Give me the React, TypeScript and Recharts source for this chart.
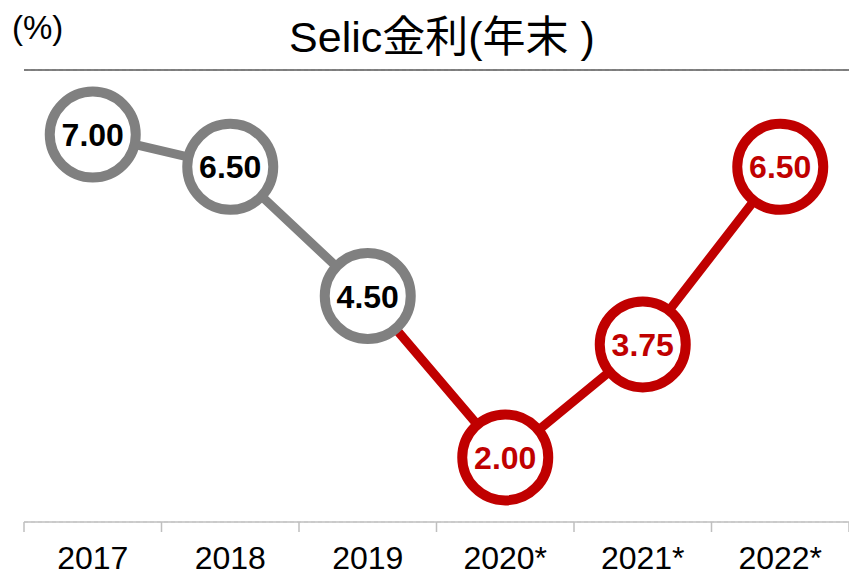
import { CartesianGrid, Line, LineChart, ReferenceLine, XAxis, YAxis } from "recharts";

const YEARS = ["2017", "2018", "2019", "2020*", "2021*", "2022*"];
const RATES = [7.0, 6.5, 4.5, 2.0, 3.75, 6.5];
const ESTIMATE = [false, false, false, true, true, true];
const Y_TICKS = [1, 2, 3, 4, 5, 6, 7, 8];

const GRAY = "#808080";
const RED = "#c00000";
const FONT = "'Liberation Sans', Arial, 'Noto Sans CJK JP', sans-serif";

// each category sits at i + 0.5 on a numeric axis so tick marks can fall on the band edges
const data = YEARS.map((year, i) => ({
  pos: i + 0.5,
  year,
  actual: !ESTIMATE[i] ? RATES[i] : null,
  forecast: ESTIMATE[i] || ESTIMATE[i + 1] ? RATES[i] : null,
}));

const X_TICKS = YEARS.flatMap((_, i) => [i, i + 0.5]).concat(YEARS.length);

function CategoryTick(props: any) {
  const { x, y, payload } = props;
  const v = Number(payload.value);
  if (Number.isInteger(v)) {
    return <line x1={x} x2={x} y1={y} y2={y + 10} stroke="#bfbfbf" strokeWidth={1.5} />;
  }
  return (
    <text x={x} y={y + 47} textAnchor="middle" fontSize={32} fontFamily={FONT} fill="#000">
      {YEARS[v - 0.5]}
    </text>
  );
}

function makeDot(color: string, textColor: string, show: (i: number) => boolean) {
  return (props: any) => {
    const { cx, cy, index, value } = props;
    if (value == null || !show(index)) return <g key={`d-${color}-${index}`} />;
    return (
      <g key={`d-${color}-${index}`}>
        <circle cx={cx} cy={cy} r={43} fill="#fff" stroke={color} strokeWidth={10} />
        <text
          x={cx}
          y={cy}
          dy="0.36em"
          textAnchor="middle"
          fontSize={32}
          fontWeight="bold"
          fontFamily={FONT}
          fill={textColor}
        >
          {Number(value).toFixed(2)}
        </text>
      </g>
    );
  };
}

export default function App() {
  return (
    <div style={{ position: "absolute", left: 0, top: 0, width: 849, height: 576, background: "#fff" }}>
      <LineChart
        width={849}
        height={576}
        data={data}
        margin={{ top: 70, right: 0, bottom: 0, left: 24 }}
      >
        <CartesianGrid vertical={false} stroke="#d9d9d9" strokeDasharray="4 3" />
        <XAxis
          type="number"
          dataKey="pos"
          domain={[0, YEARS.length]}
          ticks={X_TICKS}
          interval={0}
          allowDecimals
          tickLine={false}
          tickSize={0}
          tickMargin={0}
          height={54}
          axisLine={{ stroke: "#bfbfbf", strokeWidth: 1.5 }}
          tick={<CategoryTick />}
        />
        <YAxis
          type="number"
          domain={[1, 8]}
          ticks={Y_TICKS}
          width={0}
          tick={false}
          tickLine={false}
          axisLine={{ stroke: "#595959", strokeWidth: 1.5 }}
        />
        <ReferenceLine y={8} stroke="#595959" strokeWidth={1.5} />
        <Line
          type="linear"
          dataKey="forecast"
          stroke={RED}
          strokeWidth={9}
          dot={makeDot(RED, RED, (i) => ESTIMATE[i])}
          activeDot={false}
          isAnimationActive={false}
        />
        <Line
          type="linear"
          dataKey="actual"
          stroke={GRAY}
          strokeWidth={9}
          dot={makeDot(GRAY, "#000", (i) => !ESTIMATE[i])}
          activeDot={false}
          isAnimationActive={false}
        />
      </LineChart>
      <svg
        width={849}
        height={70}
        style={{ position: "absolute", left: 0, top: 0, pointerEvents: "none" }}
      >
        <text x={12} y={39} fontSize={33} fontFamily={FONT} fill="#000">
          (%)
        </text>
        <text x={442} y={52} textAnchor="middle" fontSize={43} fontFamily={FONT} fill="#000">
          Selic金利(年末 )
        </text>
      </svg>
    </div>
  );
}
